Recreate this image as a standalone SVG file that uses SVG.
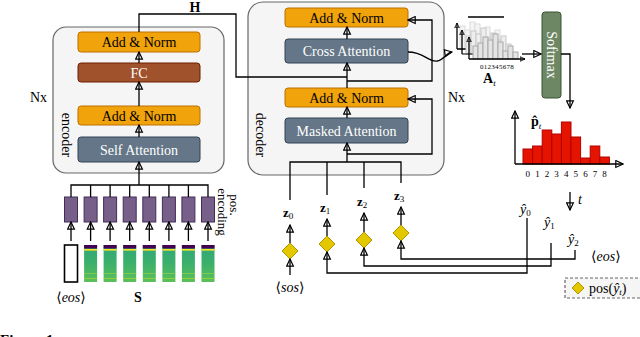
<svg xmlns="http://www.w3.org/2000/svg" width="640" height="337" viewBox="0 0 640 337">
<defs>
<marker id="ah" viewBox="0 0 10 10" refX="9" refY="5" markerWidth="9" markerHeight="9" markerUnits="userSpaceOnUse" orient="auto">
<path d="M1,1.2 L9,5 L1,8.8 Z" fill="none" stroke="#000" stroke-width="1.3"/>
</marker>
<marker id="ahs" viewBox="0 0 10 10" refX="9" refY="5" markerWidth="6" markerHeight="6" markerUnits="userSpaceOnUse" orient="auto">
<path d="M1,1.2 L9,5 L1,8.8 Z" fill="none" stroke="#000" stroke-width="1.4"/>
</marker>
<linearGradient id="spec" x1="0" y1="0" x2="0" y2="1">
<stop offset="0" stop-color="#2fa77a"/>
<stop offset="0.5" stop-color="#3cb06a"/>
<stop offset="1" stop-color="#5bbf5a"/>
</linearGradient>
<g id="spg">
<rect x="-6.5" y="0" width="13" height="37" fill="url(#spec)"/>
<rect x="-6.5" y="0" width="13" height="3.5" fill="#440154"/>
<rect x="-6.5" y="4" width="13" height="1.6" fill="#fde725"/>
<rect x="-6.5" y="28" width="13" height="1" fill="#8fd14f" opacity="0.7"/>
<rect x="-6.5" y="33" width="13" height="1" fill="#b5de2b" opacity="0.6"/>
</g>
<path id="dia" d="M0,-8 L8,0 L0,8 L-8,0 Z"/>
</defs>
<style>
text{font-family:"Liberation Serif","DejaVu Serif",serif;fill:#000}
.box{fill:#f5f5f5;stroke:#666;stroke-width:1.2}
.an{fill:#f0a30a;stroke:#bd7000;stroke-width:1}
.fc{fill:#a0522d;stroke:#6d1f00;stroke-width:1}
.att{fill:#647687;stroke:#314354;stroke-width:1}
.sm{fill:#6d8764;stroke:#3a5431;stroke-width:1}
.pe{fill:#76608a;stroke:#432d57;stroke-width:1}
.lbl{font-size:14px;text-anchor:middle}
.wt{fill:#fff}
.ln{fill:none;stroke:#000;stroke-width:1.3}
.ar{fill:none;stroke:#000;stroke-width:1.3;marker-end:url(#ah)}
.dm{fill:#e3c800;stroke:#b09500;stroke-width:1}
.bar{fill:#e51400;stroke:#b20000;stroke-width:1}
.tk{font-size:9px;text-anchor:middle}
.g1{fill:#f4f4f4;stroke:#dcdcdc;stroke-width:1}
.g2{fill:#eeeeee;stroke:#c8c8c8;stroke-width:1}
.g3{fill:#e4e4e4;stroke:#a8a8a8;stroke-width:1}
</style>

<g id="encoder">
<rect class="box" x="53" y="27" width="171" height="146" rx="13"/>
<text x="62" y="135" font-size="14" text-anchor="middle" transform="rotate(90 62 135)">encoder</text>
<text x="47" y="102" font-size="14" text-anchor="end">Nx</text>
</g>
<g id="enc-addnorm2">
<rect class="an" x="78" y="32" width="122" height="20" rx="3"/>
<text class="lbl" x="139" y="47">Add &amp; Norm</text>
</g>
<g id="enc-fc">
<rect class="fc" x="78" y="63" width="122" height="19" rx="3"/>
<text class="lbl wt" x="139" y="77.5">FC</text>
</g>
<g id="enc-addnorm1">
<rect class="an" x="78" y="106" width="122" height="19" rx="3"/>
<text class="lbl" x="139" y="120.5">Add &amp; Norm</text>
</g>
<g id="enc-selfatt">
<rect class="att" x="78" y="137" width="122" height="25" rx="3"/>
<text class="lbl wt" x="139" y="154.5">Self Attention</text>
</g>

<g id="decoder">
<rect class="box" x="248" y="2" width="196" height="173" rx="15"/>
<text x="256" y="135" font-size="14" text-anchor="middle" transform="rotate(90 256 135)">decoder</text>
<text x="448" y="102" font-size="14">Nx</text>
</g>
<g id="dec-addnorm2">
<rect class="an" x="285" y="8" width="123" height="19" rx="3"/>
<text class="lbl" x="346.5" y="22.5">Add &amp; Norm</text>
</g>
<g id="dec-crossatt">
<rect class="att" x="285" y="39" width="123" height="24" rx="3"/>
<text class="lbl wt" x="346.5" y="56">Cross Attention</text>
</g>
<g id="dec-addnorm1">
<rect class="an" x="285" y="88" width="123" height="19" rx="3"/>
<text class="lbl" x="346.5" y="102.5">Add &amp; Norm</text>
</g>
<g id="dec-maskatt">
<rect class="att" x="285" y="118" width="123" height="25" rx="3"/>
<text class="lbl wt" x="346.5" y="135.5">Masked Attention</text>
</g>

<g id="posenc">
<g transform="translate(71 197)"><rect class="pe" x="-6.5" y="0" width="13" height="25"/></g>
<g transform="translate(90.6 197)"><rect class="pe" x="-6.5" y="0" width="13" height="25"/></g>
<g transform="translate(110.1 197)"><rect class="pe" x="-6.5" y="0" width="13" height="25"/></g>
<g transform="translate(129.7 197)"><rect class="pe" x="-6.5" y="0" width="13" height="25"/></g>
<g transform="translate(149.3 197)"><rect class="pe" x="-6.5" y="0" width="13" height="25"/></g>
<g transform="translate(168.9 197)"><rect class="pe" x="-6.5" y="0" width="13" height="25"/></g>
<g transform="translate(188.4 197)"><rect class="pe" x="-6.5" y="0" width="13" height="25"/></g>
<g transform="translate(208 197)"><rect class="pe" x="-6.5" y="0" width="13" height="25"/></g>
<text x="230" y="205" font-size="13" text-anchor="middle" transform="rotate(90 230 205)">pos.</text>
<text x="218" y="212" font-size="13" text-anchor="middle" transform="rotate(90 218 212)">encoding</text>
</g>

<g id="spectrogram">
<rect x="64.5" y="245" width="13" height="37" fill="#fff" stroke="#000" stroke-width="1.6"/>
<use href="#spg" x="90.6" y="245"/>
<use href="#spg" x="110.1" y="245"/>
<use href="#spg" x="129.7" y="245"/>
<use href="#spg" x="149.3" y="245"/>
<use href="#spg" x="168.9" y="245"/>
<use href="#spg" x="188.4" y="245"/>
<use href="#spg" x="208" y="245"/>
<text x="71" y="302" font-size="14" text-anchor="middle">⟨<tspan font-style="italic">eos</tspan>⟩</text>
<text x="138" y="302" font-size="14" font-weight="bold" text-anchor="middle">S</text>
</g>

<g id="attn-hist">
<g>
<rect class="g1" x="460" y="26" width="5" height="23"/>
<rect class="g1" x="465" y="30" width="5" height="19"/>
<rect class="g1" x="470" y="22" width="5" height="27"/>
<rect class="g1" x="475" y="24" width="5" height="25"/>
<rect class="g1" x="480" y="31" width="5" height="18"/>
<rect class="g1" x="485" y="27" width="5" height="22"/>
<rect class="g1" x="490" y="34" width="5" height="15"/>
<rect class="g1" x="495" y="30" width="5" height="19"/>
<rect class="g1" x="500" y="38" width="5" height="11"/>
<path class="ln" d="M457,49 H508" stroke-width="1"/>
<path d="M457,49 V23" stroke="#000" stroke-width="1.3" fill="none" marker-end="url(#ahs)"/>
</g>
<g>
<rect class="g2" x="466" y="36" width="5" height="18"/>
<rect class="g2" x="471" y="31" width="5" height="23"/>
<rect class="g2" x="476" y="34" width="5" height="20"/>
<rect class="g2" x="481" y="28" width="5" height="26"/>
<rect class="g2" x="486" y="38" width="5" height="16"/>
<rect class="g2" x="491" y="33" width="5" height="21"/>
<rect class="g2" x="496" y="40" width="5" height="14"/>
<rect class="g2" x="501" y="36" width="5" height="18"/>
<rect class="g2" x="506" y="44" width="5" height="10"/>
<path d="M462,54 H516" stroke="#000" stroke-width="1" fill="none" marker-end="url(#ahs)"/>
<path d="M462,54 V30" stroke="#000" stroke-width="1.3" fill="none" marker-end="url(#ahs)"/>
</g>
<g>
<rect class="g3" x="473" y="46" width="5" height="13"/>
<rect class="g3" x="478" y="43" width="5" height="16"/>
<rect class="g3" x="483" y="37" width="5" height="22"/>
<rect class="g3" x="488" y="40" width="5" height="19"/>
<rect class="g3" x="493" y="34" width="5" height="25"/>
<rect class="g3" x="498" y="42" width="5" height="17"/>
<rect class="g3" x="503" y="51" width="5" height="8"/>
<rect class="g3" x="508" y="46" width="5" height="13"/>
<rect class="g3" x="513" y="52" width="5" height="7"/>
<path d="M469,59 H525" stroke="#000" stroke-width="1.3" fill="none" marker-end="url(#ahs)"/>
<path d="M469,59 V37" stroke="#000" stroke-width="1.3" fill="none" marker-end="url(#ahs)"/>
</g>
<path d="M468,17 H504" stroke="#000" stroke-width="1.3"/>
<text x="497" y="69" font-size="7" text-anchor="middle" letter-spacing="0.3">012345678</text>
<text x="483" y="83" font-size="14" font-weight="bold">A<tspan font-size="9" font-style="italic" font-weight="normal" dy="3">t</tspan></text>
</g>

<g id="softmax">
<rect class="sm" x="542" y="12" width="19" height="86" rx="3"/>
<text class="lbl wt" x="551.5" y="55" transform="rotate(90 551.5 55)" dy="5">Softmax</text>
</g>

<g id="prob-hist">
<rect class="bar" x="523" y="149" width="9.6" height="15"/>
<rect class="bar" x="532.6" y="146" width="9.6" height="18"/>
<rect class="bar" x="542.2" y="130" width="9.6" height="34"/>
<rect class="bar" x="551.8" y="134" width="9.6" height="30"/>
<rect class="bar" x="561.4" y="122" width="9.6" height="42"/>
<rect class="bar" x="571" y="137" width="9.6" height="27"/>
<rect class="bar" x="580.6" y="158" width="9.6" height="6"/>
<rect class="bar" x="590.2" y="146" width="9.6" height="18"/>
<rect class="bar" x="599.8" y="157" width="9.6" height="7"/>
<path class="ar" d="M515,164 V111"/>
<path class="ar" d="M515,164 H623"/>
<text class="tk" x="527.8" y="177">0</text>
<text class="tk" x="537.4" y="177">1</text>
<text class="tk" x="547" y="177">2</text>
<text class="tk" x="556.6" y="177">3</text>
<text class="tk" x="566.2" y="177">4</text>
<text class="tk" x="575.8" y="177">5</text>
<text class="tk" x="585.4" y="177">6</text>
<text class="tk" x="595" y="177">7</text>
<text class="tk" x="604.6" y="177">8</text>
<text x="531" y="126" font-size="14" font-weight="bold">p̂<tspan font-size="9" font-style="italic" font-weight="normal" dy="3">t</tspan></text>
</g>

<g id="zlabels" font-size="13">
<text x="283" y="217" font-weight="bold">z<tspan font-size="9" font-weight="normal" dy="2">0</tspan></text>
<text x="320" y="212" font-weight="bold">z<tspan font-size="9" font-weight="normal" dy="2">1</tspan></text>
<text x="357" y="206" font-weight="bold">z<tspan font-size="9" font-weight="normal" dy="2">2</tspan></text>
<text x="394" y="200" font-weight="bold">z<tspan font-size="9" font-weight="normal" dy="2">3</tspan></text>
</g>

<g id="diamonds">
<use href="#dia" class="dm" x="290" y="251"/>
<use href="#dia" class="dm" x="327" y="244"/>
<use href="#dia" class="dm" x="364" y="240"/>
<use href="#dia" class="dm" x="401" y="233"/>
</g>

<g id="ylabels" font-size="14">
<text x="520" y="214"><tspan font-style="italic">ŷ</tspan><tspan font-size="9" dy="2">0</tspan></text>
<text x="544" y="227"><tspan font-style="italic">ŷ</tspan><tspan font-size="9" dy="2">1</tspan></text>
<text x="568" y="244"><tspan font-style="italic">ŷ</tspan><tspan font-size="9" dy="2">2</tspan></text>
<text x="591" y="261">⟨<tspan font-style="italic">eos</tspan>⟩</text>
<text x="290" y="292" text-anchor="middle">⟨<tspan font-style="italic">sos</tspan>⟩</text>
<text x="578" y="204" font-style="italic">t</text>
</g>

<g id="legend">
<rect x="565" y="278" width="80" height="20" fill="#f5f5f5" stroke="#666" stroke-width="1.2" stroke-dasharray="3,2"/>
<path d="M578,282 L584,288 L578,294 L572,288 Z" class="dm"/>
<text x="589" y="293" font-size="14">pos(<tspan font-style="italic">ŷ</tspan><tspan font-size="9" font-style="italic" dy="2">t</tspan><tspan dy="-2">)</tspan></text>
</g>

<g id="connectors">
<path class="ar" d="M139,63 V52"/>
<path class="ar" d="M139,106 V82"/>
<path class="ar" d="M139,137 V125"/>
<path class="ar" d="M139,185 V162"/>
<path class="ln" d="M71,197 V185 H208 V197 M90.6,185 V197 M110.1,185 V197 M129.7,185 V197 M149.3,185 V197 M168.9,185 V197 M188.4,185 V197"/>
<path class="ar" d="M71,241 V222"/>
<path class="ar" d="M90.6,241 V222"/>
<path class="ar" d="M110.1,241 V222"/>
<path class="ar" d="M129.7,241 V222"/>
<path class="ar" d="M149.3,241 V222"/>
<path class="ar" d="M168.9,241 V222"/>
<path class="ar" d="M188.4,241 V222"/>
<path class="ar" d="M208,241 V222"/>
<path class="ln" d="M139,32 V14 H236 V77 H347"/>
<text x="195" y="12" font-size="14" font-weight="bold" text-anchor="middle">H</text>
<path class="ar" d="M347,39 V27"/>
<path class="ar" d="M347,88 V63"/>
<path class="ar" d="M347,118 V107"/>
<path class="ar" d="M347,162 V143"/>
<path class="ar" d="M347,81 H432 V20 H408"/>
<path class="ar" d="M347,154 H432 V99 H408"/>
<path class="ar" d="M408,52 C424,52 428,62 437,61 C444,60 446,53 452,52"/>
<path class="ar" d="M522,54 H541"/>
<path class="ar" d="M561,54 H570 V108"/>
<path class="ar" d="M570,192 V210"/>
<path class="ln" d="M290,200 V162 H401 V183 M327,162 V195 M364,162 V188"/>
<path class="ar" d="M290,243 V225"/>
<path class="ar" d="M290,275 V259"/>
<path class="ar" d="M327,236 V219"/>
<path class="ar" d="M364,232 V213"/>
<path class="ar" d="M401,225 V207"/>
<path class="ar" d="M527,218 V273 H327 V252"/>
<path class="ar" d="M551,243 V266 H364 V248"/>
<path class="ar" d="M575,250 V259 H401 V241"/>
</g>

<text x="0" y="345" font-size="15" font-weight="bold">Figure 1:</text>
</svg>
